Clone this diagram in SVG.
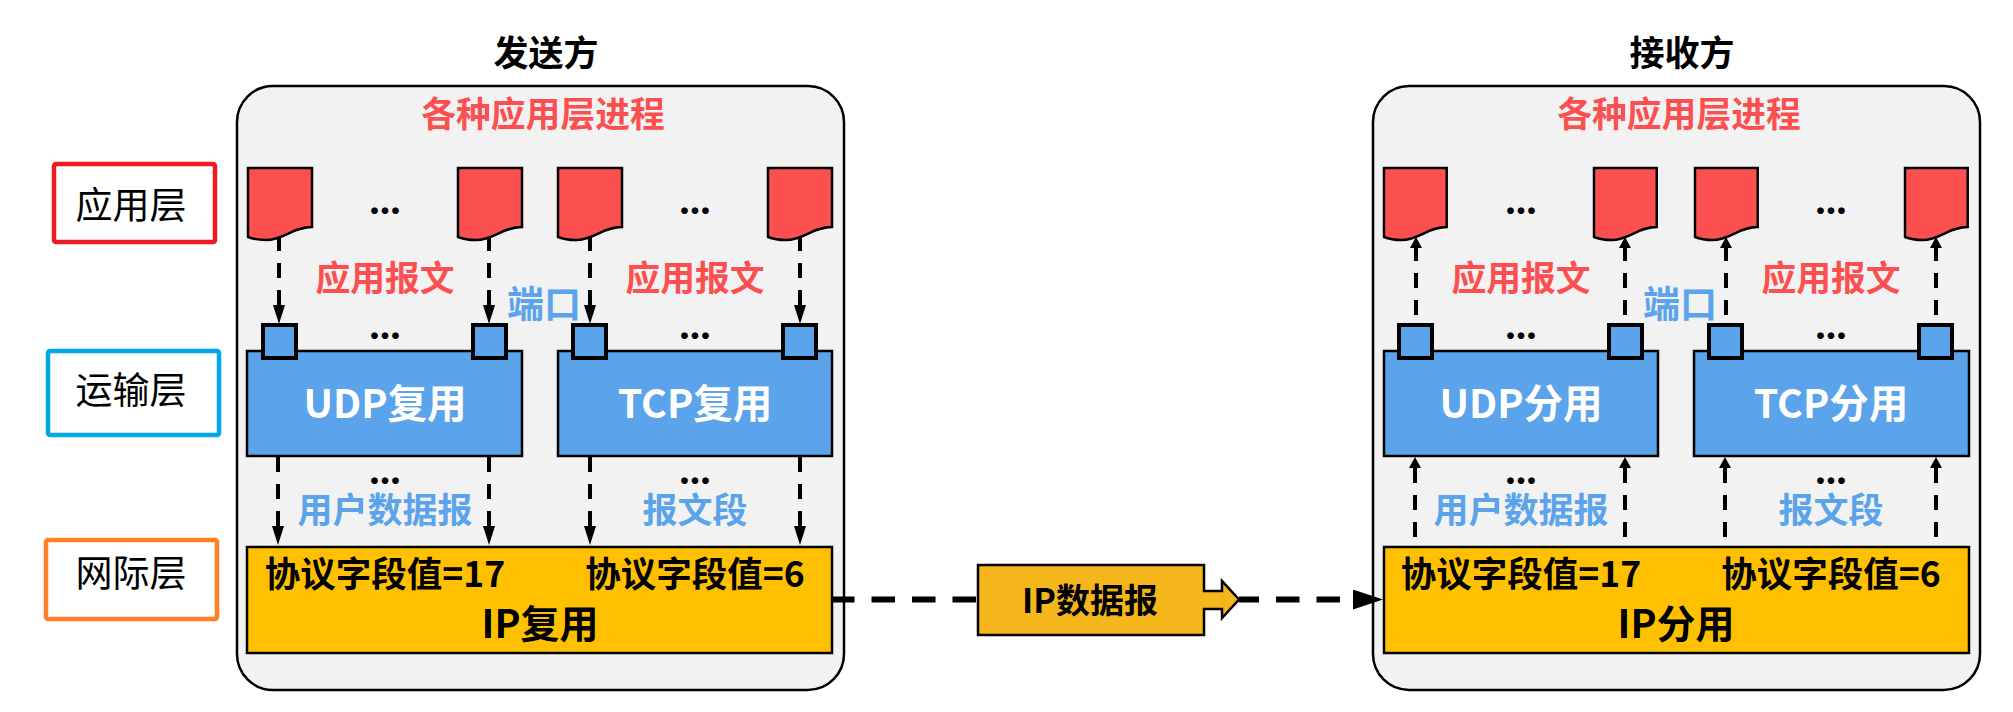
<svg xmlns="http://www.w3.org/2000/svg" width="2013" height="712" viewBox="0 0 2013 712">
<style>
text{font-family:"Noto Sans CJK SC","Noto Sans",sans-serif;text-anchor:middle}
.t{font-size:35px;font-weight:700;fill:#000}
.r{font-size:34.8px;font-weight:700;fill:#FC5050}
.u{font-size:35px;font-weight:700;fill:#5BA3EA}
.p{font-size:37px;font-weight:700;fill:#5BA3EA}
.w{font-size:39.5px;font-weight:700;fill:#fff}
.k{font-size:35.5px;font-weight:700;fill:#000}
.i{font-size:39px;font-weight:700;fill:#000}
.l{font-size:37px;fill:#000}
.g{font-size:34px;font-weight:700;fill:#000}
.d{font-family:"Lato",sans-serif;font-size:44px;font-weight:700;fill:#000}
.outer{fill:#F2F2F2;stroke:#000;stroke-width:2.5}
.doc{fill:#FC5050;stroke:#000;stroke-width:2.5}
.port{fill:#5BA3EA;stroke:#000;stroke-width:4}
.blue{fill:#5BA3EA;stroke:#000;stroke-width:2.5}
.gold{fill:#FFC000;stroke:#000;stroke-width:2.5}
.conn{fill:none;stroke:#000;stroke-width:4;stroke-dasharray:15 12}
.big{fill:none;stroke:#000;stroke-width:6;stroke-dasharray:23.5 17}
</style>
<defs>
<marker id="dn" markerUnits="userSpaceOnUse" markerWidth="20" markerHeight="14" refX="0" refY="7" orient="auto"><path d="M0 1L19 7L0 13Z" fill="#000"/></marker>
<marker id="up" markerUnits="userSpaceOnUse" markerWidth="12" markerHeight="14" refX="0" refY="7" orient="auto"><path d="M0 1L11 7L0 13Z" fill="#000"/></marker>
<marker id="bg" markerUnits="userSpaceOnUse" markerWidth="32" markerHeight="22" refX="2" refY="10" orient="auto"><path d="M0 0L30 10L0 20Z" fill="#000"/></marker>
<path id="docshape" d="M0 0H64V59C44 59 36 72 18 72C11 72 5 71 0 69Z"/>
</defs>

<g id="sender-box"><rect class="outer" x="237" y="86" width="607" height="604" rx="36"/><text class="t" x="546" y="66">发送方</text><text class="r" x="543" y="127">各种应用层进程</text></g>
<g id="receiver-box"><rect class="outer" x="1373" y="86" width="607" height="604" rx="36"/><text class="t" x="1682" y="66">接收方</text><text class="r" x="1679" y="127">各种应用层进程</text></g>

<g id="layer-app"><rect x="54" y="164" width="161" height="78" fill="#fff" stroke="#ED1C24" stroke-width="4.5" rx="2"/><text class="l" x="131" y="219">应用层</text></g>
<g id="layer-transport"><rect x="48" y="351" width="171" height="84" fill="#fff" stroke="#00A8E8" stroke-width="4.5" rx="2"/><text class="l" x="131" y="404">运输层</text></g>
<g id="layer-network"><rect x="46" y="540" width="171" height="79" fill="#fff" stroke="#FF7F27" stroke-width="4.5" rx="2"/><text class="l" x="131" y="587">网际层</text></g>

<g id="connectors">
<path class="conn" d="M279 236V305" marker-end="url(#dn)"/>
<path class="conn" d="M489 236V305" marker-end="url(#dn)"/>
<path class="conn" d="M590 236V305" marker-end="url(#dn)"/>
<path class="conn" d="M800 236V305" marker-end="url(#dn)"/>
<path class="conn" d="M278 457V526" marker-end="url(#dn)"/>
<path class="conn" d="M489 457V526" marker-end="url(#dn)"/>
<path class="conn" d="M590 457V526" marker-end="url(#dn)"/>
<path class="conn" d="M800 457V526" marker-end="url(#dn)"/>
<path class="conn" d="M1416 315V248" marker-end="url(#up)"/>
<path class="conn" d="M1625 315V248" marker-end="url(#up)"/>
<path class="conn" d="M1726 315V248" marker-end="url(#up)"/>
<path class="conn" d="M1936 315V248" marker-end="url(#up)"/>
<path class="conn" d="M1415 537V468" marker-end="url(#up)"/>
<path class="conn" d="M1625 537V468" marker-end="url(#up)"/>
<path class="conn" d="M1725 537V468" marker-end="url(#up)"/>
<path class="conn" d="M1936 537V468" marker-end="url(#up)"/>
<path class="big" d="M831 599.5H978"/>
<path class="big" d="M1239 599.5H1355" stroke-dashoffset="3.5" marker-end="url(#bg)"/>
</g>

<g id="doc-s1"><use href="#docshape" class="doc" x="248" y="168"/></g>
<g id="doc-s2"><use href="#docshape" class="doc" x="458" y="168"/></g>
<g id="doc-s3"><use href="#docshape" class="doc" x="558" y="168"/></g>
<g id="doc-s4"><use href="#docshape" class="doc" x="768" y="168"/></g>
<g id="doc-r1"><use href="#docshape" class="doc" transform="translate(1384 168) scale(.98 1)"/></g>
<g id="doc-r2"><use href="#docshape" class="doc" transform="translate(1594 168) scale(.98 1)"/></g>
<g id="doc-r3"><use href="#docshape" class="doc" transform="translate(1695 168) scale(.98 1)"/></g>
<g id="doc-r4"><use href="#docshape" class="doc" transform="translate(1905 168) scale(.98 1)"/></g>

<g id="udp-mux"><rect class="blue" x="247" y="351" width="275" height="105"/><text class="w" x="385" y="418">UDP复用</text></g>
<g id="tcp-mux"><rect class="blue" x="558" y="351" width="274" height="105"/><text class="w" x="695" y="418">TCP复用</text></g>
<g id="udp-demux"><rect class="blue" x="1384" y="351" width="274" height="105"/><text class="w" x="1521" y="418">UDP分用</text></g>
<g id="tcp-demux"><rect class="blue" x="1694" y="351" width="275" height="105"/><text class="w" x="1831" y="418">TCP分用</text></g>

<g id="port-s1"><rect class="port" x="263" y="325" width="33" height="33"/></g>
<g id="port-s2"><rect class="port" x="473" y="325" width="33" height="33"/></g>
<g id="port-s3"><rect class="port" x="573" y="325" width="33" height="33"/></g>
<g id="port-s4"><rect class="port" x="783" y="325" width="33" height="33"/></g>
<g id="port-r1"><rect class="port" x="1399" y="325" width="33" height="33"/></g>
<g id="port-r2"><rect class="port" x="1609" y="325" width="33" height="33"/></g>
<g id="port-r3"><rect class="port" x="1709" y="325" width="33" height="33"/></g>
<g id="port-r4"><rect class="port" x="1919" y="325" width="33" height="33"/></g>

<g id="ip-mux"><rect class="gold" x="247" y="547" width="585" height="106"/><text class="k" x="385" y="587">协议字段值=17</text><text class="k" x="695" y="587">协议字段值=6</text><text class="i" x="540" y="638">IP复用</text></g>
<g id="ip-demux"><rect class="gold" x="1384" y="547" width="585" height="106"/><text class="k" x="1521" y="587">协议字段值=17</text><text class="k" x="1831" y="587">协议字段值=6</text><text class="i" x="1676" y="638">IP分用</text></g>

<g id="ip-datagram"><path d="M978 565H1204V591H1222V581L1239 599.5L1222 618V609H1204V635H978Z" fill="#F4B61A" stroke="#000" stroke-width="2.5"/><text class="g" x="1090" y="613">IP数据报</text></g>

<g id="labels">
<text class="r" x="385" y="291">应用报文</text><text class="r" x="695" y="291">应用报文</text>
<text class="r" x="1521" y="291">应用报文</text><text class="r" x="1831" y="291">应用报文</text>
<text class="p" x="544" y="318">端口</text><text class="p" x="1680" y="318">端口</text>
<text class="u" x="385" y="523">用户数据报</text><text class="u" x="695" y="523">报文段</text>
<text class="u" x="1521" y="523">用户数据报</text><text class="u" x="1831" y="523">报文段</text>
<text class="d" x="385" y="214">...</text><text class="d" x="695" y="214">...</text>
<text class="d" x="1521" y="214">...</text><text class="d" x="1831" y="214">...</text>
<text class="d" x="385" y="339">...</text><text class="d" x="695" y="339">...</text>
<text class="d" x="1521" y="339">...</text><text class="d" x="1831" y="339">...</text>
<text class="d" x="385" y="484">...</text><text class="d" x="695" y="484">...</text>
<text class="d" x="1521" y="484">...</text><text class="d" x="1831" y="484">...</text>
</g>
</svg>
